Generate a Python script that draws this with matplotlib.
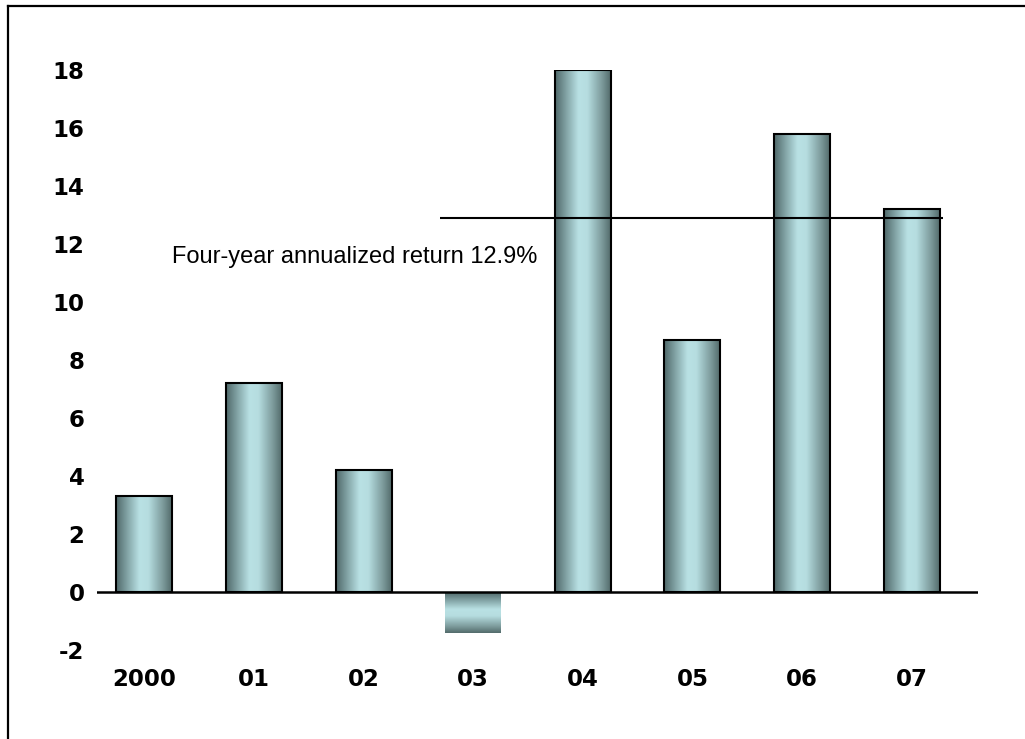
import matplotlib.pyplot as plt
import numpy as np
from matplotlib.colors import LinearSegmentedColormap
from matplotlib.lines import Line2D

years = ["2000", "01", "02", "03", "04", "05", "06", "07"]
returns = [3.3, 7.2, 4.2, -1.4, 18.0, 8.7, 15.8, 13.2]
annualized = 12.9
yticks = list(range(-2, 20, 2))

# cylinder-like shading for the bars
shade = LinearSegmentedColormap.from_list(
    "shade",
    [(0.0, "#4f6869"), (0.2, "#82a3a5"), (0.42, "#b9e1e4"),
     (0.58, "#b6dde0"), (0.85, "#7a9899"), (1.0, "#526a6a")])

fig = plt.figure(figsize=(10.25, 7.39), dpi=100)
ax = fig.add_axes([0.0946, 0.1204, 0.8595, 0.7849])

x = np.arange(len(years))
width = 0.51
grad = np.linspace(0, 1, 256)

bars = ax.bar(x, returns, width=width, facecolor="none", zorder=3)
for rect, val in zip(bars, returns):
    x0 = rect.get_x()
    x1 = x0 + rect.get_width()
    if val >= 0:
        ax.imshow(grad[np.newaxis, :], cmap=shade, aspect="auto",
                  extent=(x0, x1, 0, val), zorder=2, interpolation="bicubic")
        rect.set_edgecolor("black")
        rect.set_linewidth(1.5)
    else:
        ax.imshow(grad[:, np.newaxis], cmap=shade, aspect="auto",
                  extent=(x0, x1, val, 0), zorder=2, interpolation="bicubic")
        rect.set_edgecolor("none")

ax.axhline(0, color="black", lw=1.8, zorder=4)
ax.hlines(annualized, 2.70, 7.285, color="black", lw=1.5, zorder=5)
ax.text(0.251, 11.55, f"Four-year annualized return {annualized}%",
        fontsize=17, family="Liberation Sans", va="center", ha="left")

ax.set_xlim(-0.433, 7.605)
ax.set_ylim(-2, 18)
ax.set_xticks(x)
ax.set_xticklabels(years, fontsize=16.5, fontweight="bold", family="DejaVu Sans")
ax.set_yticks(yticks)
ax.set_yticklabels([str(t) for t in yticks], fontsize=16.5, fontweight="bold",
                   family="DejaVu Sans")
ax.tick_params(axis="x", length=0, pad=13)
ax.tick_params(axis="y", length=0, pad=9)
for s in ax.spines.values():
    s.set_visible(False)

# frame along the top and left of the figure
fig.add_artist(Line2D([0.0078, 1.0], [0.9919, 0.9919], color="black", lw=1.6))
fig.add_artist(Line2D([0.0078, 0.0078], [0.0, 0.9919], color="black", lw=1.6))

fig.savefig("out.png", dpi=100)
